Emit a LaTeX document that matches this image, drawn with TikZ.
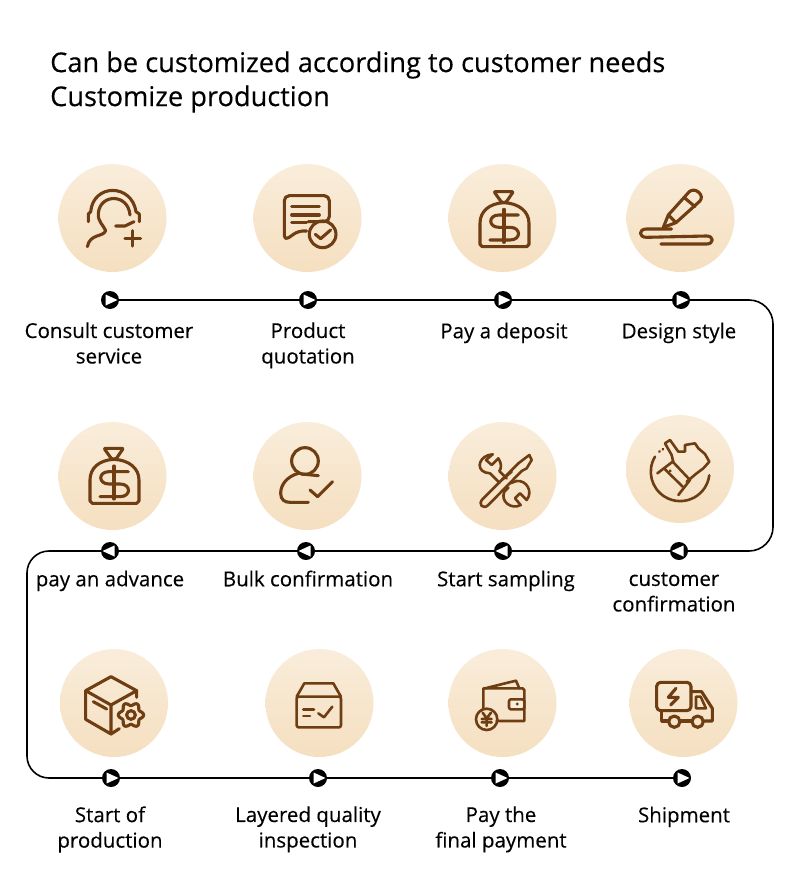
\documentclass[tikz,border=0pt]{standalone}
\usepackage{fontspec}
\setmainfont{Open Sans}[FakeBold=0.25]
\usetikzlibrary{positioning}
\definecolor{iconbrown}{HTML}{6E3D12}
\definecolor{discTop}{HTML}{F9EDDB}
\definecolor{discBottom}{HTML}{F5DFC0}
\tikzset{
	iconline/.style={draw=iconbrown, line width=3.1pt, line cap=round, line join=round},
	iconthin/.style={iconline, line width=2.6pt},
	crop/.style={shift={#1}, x=0.3333pt, y=-0.3333pt},
	pics/moneybag/.style={code={
		\begin{scope}[x=0.3333pt, y=-0.3333pt]
			\draw[iconline, rounded corners=1pt] (-30,-80) -- (28,-80) -- (6,-48) -- (-7,-48) -- cycle;
			\draw[iconline] (0,-47) .. controls (-45,-45) and (-72,-20) .. (-72,15) -- (-72,78) -- (-65,85) -- (68,85) -- (75,78) -- (75,15) .. controls (75,-20) and (45,-45) .. (0,-47);
			\draw[iconline] (43,-10) -- (-15,-10) .. controls (-48,-10) and (-48,27) .. (-15,27) -- (18,27) .. controls (52,27) and (52,65) .. (18,65) -- (-42,65);
			\draw[iconline] (0,-27) -- (0,72);
		\end{scope}
	}}
}
\begin{document}
\begin{tikzpicture}[
		x=1pt, y=-1pt,
		node distance=6pt,
		disc/.style={circle, minimum size=108pt, inner sep=0pt, top color=discTop, bottom color=discBottom},
		stop/.style={circle, fill=black, minimum size=18pt, inner sep=0pt},
		stopright/.style={stop, path picture={\fill[white] (-4.5pt,-5.5pt) -- (7.5pt,0pt) -- (-4.5pt,5.5pt) -- cycle;}},
		stopleft/.style={stop, path picture={\fill[white] (4.5pt,-5.5pt) -- (-7.5pt,0pt) -- (4.5pt,5.5pt) -- cycle;}},
		flow/.style={draw=black, line width=1.6pt},
		caption/.style={align=center, font=\fontsize{20.5}{25.5}\selectfont, inner sep=0pt, execute at begin node=\strut},
		heading/.style={anchor=west, align=left, font=\fontsize{27.2}{34}\selectfont, inner sep=0pt}
	]
	\useasboundingbox (0,0) rectangle (800,894);
	\fill[white] (0,0) rectangle (800,894);

	\node[heading] (title) at (50,82) {Can be customized according to customer needs\\Customize production};

	% discs
	\node[disc] (a1) at (112.5,218) {};
	\node[disc] (a2) at (307.5,218) {};
	\node[disc] (a3) at (502.5,218) {};
	\node[disc] (a4) at (680.5,218) {};
	\node[disc] (b1) at (112.5,476) {};
	\node[disc] (b2) at (307.5,476) {};
	\node[disc] (b3) at (502.5,476) {};
	\node[disc] (b4) at (680,469) {};
	\node[disc] (c1) at (114,703) {};
	\node[disc] (c2) at (319.5,703) {};
	\node[disc] (c3) at (502.5,703) {};
	\node[disc] (c4) at (683.5,703) {};

	% stops
	\node[stopright] (s1) at (110,300) {};
	\node[stopright] (s2) at (308,300) {};
	\node[stopright] (s3) at (503,300) {};
	\node[stopright] (s4) at (681,300) {};
	\node[stopleft] (s5) at (679,551) {};
	\node[stopleft] (s6) at (503,551) {};
	\node[stopleft] (s7) at (306,551) {};
	\node[stopleft] (s8) at (110,551) {};
	\node[stopright] (s9) at (111,778) {};
	\node[stopright] (s10) at (318,778) {};
	\node[stopright] (s11) at (500,778) {};
	\node[stopright] (s12) at (682,778) {};

	\coordinate (turnA) at (773,300);
	\coordinate (turnB) at (773,551);
	\coordinate (turnC) at (27,551);
	\coordinate (turnD) at (27,778);

	\draw[flow] (s1) -- (s2);
	\draw[flow] (s2) -- (s3);
	\draw[flow] (s3) -- (s4);
	\draw[flow, rounded corners=24pt] (s4) -- (turnA) -- (turnB) -- (s5);
	\draw[flow] (s5) -- (s6);
	\draw[flow] (s6) -- (s7);
	\draw[flow] (s7) -- (s8);
	\draw[flow, rounded corners=22pt] (s8) -- (turnC) -- (turnD) -- (s9);
	\draw[flow] (s9) -- (s10);
	\draw[flow] (s10) -- (s11);
	\draw[flow] (s11) -- (s12);

	% captions
	\node[caption, below=13pt of s1, xshift=-1pt] (l1) {Consult customer\\service};
	\node[caption, below=13pt of s2] (l2) {Product\\quotation};
	\node[caption, below=11pt of s3, xshift=1pt] (l3) {Pay a deposit};
	\node[caption, below=11pt of s4, xshift=-2pt] (l4) {Design style};
	\node[caption, below=12pt of s5, xshift=-5pt] (l5) {customer\\confirmation};
	\node[caption, below=8pt of s6, xshift=3pt] (l6) {Start sampling};
	\node[caption, below=8pt of s7, xshift=2pt] (l7) {Bulk confirmation};
	\node[caption, below=8pt of s8] (l8) {pay an advance};
	\node[caption, below=19pt of s9, xshift=-1pt] (l9) {Start of\\production};
	\node[caption, below=19pt of s10, xshift=-10pt] (l10) {Layered quality\\inspection};
	\node[caption, below=19pt of s11, xshift=1pt] (l11) {Pay the\\final payment};
	\node[caption, below=17pt of s12, xshift=2pt] (l12) {Shipment};

	% icons, first row left
	\begin{scope}[crop={(40,150)}]
		\draw[iconline] (145,215) -- (145,192) -- (152,185) .. controls (160,100) and (275,100) .. (288,185) -- (298,192) -- (298,215);
		\draw[iconline] (270,195) .. controls (265,130) and (180,130) .. (175,190) .. controls (173,215) and (190,225) .. (197,242) .. controls (190,262) and (150,250) .. (142,290);
		\draw[iconline] (227,228) -- (255,228) -- (282,215);
		\draw[iconline] (255,265) -- (302,265) (278,242) -- (278,288);
		\draw[iconline, rounded corners=5pt] (805,215) -- (868,215) -- (868,137) -- (733,137) -- (733,272) -- (775,243) -- (800,243);
		\draw[iconline] (755,170) -- (838,170) (755,195) -- (838,195) (755,218) -- (800,218);
		\draw[iconline] (848,253) circle[radius=40];
		\draw[iconline] (826,253) -- (842,266) -- (872,240);
	\end{scope}

	% icons, first row right
	\begin{scope}[crop={(430,150)}]
		\pic at (222,205) {moneybag};
		\draw[iconline] (700,232) -- (715,195) -- (778,125) .. controls (795,110) and (825,135) .. (810,153) -- (738,218) -- cycle;
		\draw[iconline] (715,195) -- (738,218) (762,142) -- (795,170);
		\draw[iconline] (725,237) -- (650,237) .. controls (625,237) and (625,262) .. (650,262) -- (830,258) .. controls (852,258) and (852,282) .. (830,282) -- (693,282);
	\end{scope}

	% icons, second row left
	\begin{scope}[crop={(20,405)}]
		\pic at (282,210) {moneybag};
		\draw[iconline] (855,168) circle[radius=40];
		\draw[iconline] (845,207) -- (895,212);
		\draw[iconline] (835,205) .. controls (800,215) and (782,240) .. (782,265) .. controls (782,285) and (795,292) .. (810,292) -- (865,292);
		\draw[iconline] (870,255) -- (893,275) -- (938,230);
	\end{scope}

	% tools
	\begin{scope}[crop={(470,445)}]
		\draw[iconthin] (68,28) -- (48,45) -- (65,60) -- (85,40) .. controls (95,55) and (95,70) .. (88,78) -- (110,100);
		\draw[iconthin] (68,28) .. controls (30,30) and (15,70) .. (45,82) -- (60,85) -- (88,113);
		\draw[iconthin] (120,115) -- (140,108) .. controls (170,105) and (190,140) .. (170,165) -- (150,145) -- (135,160) -- (152,180) .. controls (125,195) and (90,170) .. (103,140) -- (115,128);
		\draw[iconthin] (145,55) -- (40,160) .. controls (20,178) and (40,195) .. (55,180) -- (155,78);
		\draw[iconthin] (145,55) -- (178,30) -- (185,45) -- (170,70) -- (155,78);
		\draw[iconthin] (95,105) -- (125,80);
	\end{scope}

	% glove
	\begin{scope}[crop={(640,430)}]
		\draw[iconthin] (45,80) arc[start angle=211, delta angle=-204, radius=88];
		\draw[iconthin] (58,65) -- (59,64) (68,58) -- (69,57);
		\draw[iconthin] (95,75) -- (75,40) -- (90,30) -- (115,65) -- (135,65) -- (135,45) -- (165,40) -- (175,55) -- (195,72) -- (208,95) -- (190,115) -- (170,130) -- (140,155);
		\draw[iconthin] (95,75) -- (100,97);
		\draw[iconthin] (52,130) -- (98,95) -- (150,150) -- (115,195);
		\draw[iconthin] (72,115) -- (128,170);
		\draw[iconthin] (90,122) -- (91,123);
	\end{scope}

	% icons, third row left
	\begin{scope}[crop={(20,640)}]
		\draw[iconline] (273,110) -- (197,152) -- (273,195) -- (350,152) -- cycle;
		\draw[iconline] (197,152) -- (197,238) -- (273,282) -- (273,195);
		\draw[iconline] (350,152) -- (350,172) (273,282) -- (298,266);
		\draw[iconline] (220,185) -- (260,207);
		\draw[iconline] plot[domain=0:360, samples=73, smooth] ({333+33*cos(\x)+5*cos(6*\x)*cos(\x)}, {225+33*sin(\x)+5*cos(6*\x)*sin(\x)}) -- cycle;
		\draw[iconline] (333,225) circle[radius=13];
		\draw[iconthin, rounded corners=2pt] (830,170) rectangle (963,262);
		\draw[iconthin] (830,170) -- (853,130) -- (940,130) -- (963,170);
		\draw[iconthin] (850,208) -- (882,208) (850,228) -- (870,228);
		\draw[iconthin] (895,220) -- (912,232) -- (937,200);
	\end{scope}

	% icons, third row right
	\begin{scope}[crop={(430,640)}]
		\draw[iconthin] (160,207) -- (160,145) -- (278,145) -- (283,150) -- (283,243) -- (200,243);
		\draw[iconthin] (165,145) -- (258,122) -- (268,145);
		\draw[iconthin, fill=discTop, rounded corners=2pt] (237,178) rectangle (283,208);
		\fill[iconbrown] (262,192) circle[radius=5];
		\draw[iconthin] (170,238) circle[radius=32];
		\draw[iconthin] (158,218) -- (170,235) -- (183,218) (170,235) -- (170,258) (155,237) -- (185,237) (155,247) -- (185,247);
		\draw[iconline, rounded corners=4pt] (680,127) rectangle (783,212);
		\draw[iconline] (738,145) -- (715,172) -- (745,172) -- (722,195);
		\draw[iconline] (783,155) -- (815,155) -- (847,205) -- (847,243) -- (820,243);
		\draw[iconthin] (798,170) -- (812,170) -- (828,205) -- (798,205) -- cycle;
		\draw[iconline] (695,212) -- (695,243) -- (716,243) (750,243) -- (786,243);
		\draw[iconline] (733,245) circle[radius=17] (803,245) circle[radius=17];
	\end{scope}
\end{tikzpicture}
\end{document}
